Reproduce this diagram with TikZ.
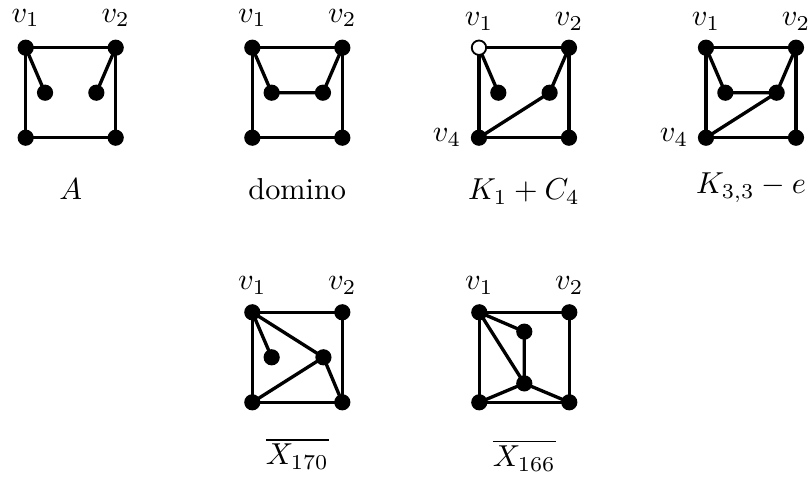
\documentclass[tikz,border=0pt]{standalone}
\usepackage{amsmath,amssymb}
\usetikzlibrary{calc}

\begin{document}
\begin{tikzpicture}[x=0.522cm,y=0.522cm,line width=1.1pt]
        \useasboundingbox (0,0) rectangle (17.978,-10.6);
        % вершини: 1 -- ліва верхня, 2 -- права верхня, 3 -- права нижня, 4 -- ліва нижня, 5, 6 -- внутрішні

        % граф A
        \begin{scope}[shift={(0.571,-1.06)}]
        \coordinate (A1) at (0,0);
        \coordinate (A2) at (2,0);
        \coordinate (A3) at (2,-2);
        \coordinate (A4) at (0,-2);
        \coordinate (A5) at (0.43,-1);
        \coordinate (A6) at (1.57,-1);
        \draw (A4) -- (A1) -- (A2) -- (A3) -- (A4);
        \draw (A1) -- (A5);
        \draw (A2) -- (A6);
        \fill (A1) circle (0.18) (A2) circle (0.18) (A3) circle (0.18)
              (A4) circle (0.18) (A5) circle (0.18) (A6) circle (0.18);
        \node[above=3pt] (lA1) at (A1) {$v_1$};
        \node[above=3pt] (lA2) at (A2) {$v_2$};
        \node[anchor=base] (nA) at (1,-3.38) {$A$};
        \end{scope}

        % доміно
        \begin{scope}[shift={(5.607,-1.06)}]
        \coordinate (D1) at (0,0);
        \coordinate (D2) at (2,0);
        \coordinate (D3) at (2,-2);
        \coordinate (D4) at (0,-2);
        \coordinate (D5) at (0.43,-1);
        \coordinate (D6) at (1.57,-1);
        \draw (D4) -- (D1) -- (D2) -- (D3) -- (D4);
        \draw (D1) -- (D5) -- (D6) -- (D2);
        \fill (D1) circle (0.18) (D2) circle (0.18) (D3) circle (0.18)
              (D4) circle (0.18) (D5) circle (0.18) (D6) circle (0.18);
        \node[above=3pt] (lD1) at (D1) {$v_1$};
        \node[above=3pt] (lD2) at (D2) {$v_2$};
        \node[anchor=base] (nD) at (1,-3.38) {domino};
        \end{scope}

        % K_1 + C_4, v_1 -- порожня вершина
        \begin{scope}[shift={(10.644,-1.06)}]
        \coordinate (K1) at (0,0);
        \coordinate (K2) at (2,0);
        \coordinate (K3) at (2,-2);
        \coordinate (K4) at (0,-2);
        \coordinate (K5) at (0.43,-1);
        \coordinate (K6) at (1.57,-1);
        \draw (K4) -- (K1) -- (K2) -- (K3) -- (K4);
        \draw (K1) -- (K5);
        \draw (K2) -- (K6) -- (K4);
        \fill (K2) circle (0.18) (K3) circle (0.18)
              (K4) circle (0.18) (K5) circle (0.18) (K6) circle (0.18);
        \filldraw[fill=white, line width=0.6pt] (K1) circle (0.16);
        \node[above=1.8pt] (lK1) at (K1) {$v_1$};
        \node[above=1.8pt] (lK2) at (K2) {$v_2$};
        \node[left=2pt] (lK4) at (K4) {$v_4$};
        \node[anchor=base] (nK) at (1,-3.38) {$K_1 + C_4$};
        \end{scope}

        % K_{3,3} - e
        \begin{scope}[shift={(15.689,-1.06)}]
        \coordinate (E1) at (0,0);
        \coordinate (E2) at (2,0);
        \coordinate (E3) at (2,-2);
        \coordinate (E4) at (0,-2);
        \coordinate (E5) at (0.43,-1);
        \coordinate (E6) at (1.57,-1);
        \draw (E4) -- (E1) -- (E2) -- (E3) -- (E4);
        \draw (E1) -- (E5) -- (E6) -- (E2);
        \draw (E6) -- (E4);
        \fill (E1) circle (0.18) (E2) circle (0.18) (E3) circle (0.18)
              (E4) circle (0.18) (E5) circle (0.18) (E6) circle (0.18);
        \node[above=1.8pt] (lE1) at (E1) {$v_1$};
        \node[above=1.8pt] (lE2) at (E2) {$v_2$};
        \node[left=2pt] (lE4) at (E4) {$v_4$};
        \node[anchor=base] (nE) at (1,-3.24) {$K_{3,3} - e$};
        \end{scope}

        % доповнення X_170
        \begin{scope}[shift={(5.607,-6.94)}]
        \coordinate (P1) at (0,0);
        \coordinate (P2) at (2,0);
        \coordinate (P3) at (2,-2);
        \coordinate (P4) at (0,-2);
        \coordinate (P5) at (0.43,-1);
        \coordinate (P6) at (1.58,-1);
        \draw (P4) -- (P1) -- (P2) -- (P3) -- (P4);
        \draw (P1) -- (P5);
        \draw (P1) -- (P6) -- (P3);
        \draw (P6) -- (P4);
        \fill (P1) circle (0.18) (P2) circle (0.18) (P3) circle (0.18)
              (P4) circle (0.18) (P5) circle (0.18) (P6) circle (0.18);
        \node[above=2pt] (lP1) at (P1) {$v_1$};
        \node[above=2pt] (lP2) at (P2) {$v_2$};
        \node[anchor=base] (nP) at (1,-3.39) {$\overline{X_{170}}$};
        \end{scope}

        % доповнення X_166
        \begin{scope}[shift={(10.651,-6.94)}]
        \coordinate (Q1) at (0,0);
        \coordinate (Q2) at (2,0);
        \coordinate (Q3) at (2,-2);
        \coordinate (Q4) at (0,-2);
        \coordinate (Q5) at (1,-0.43);
        \coordinate (Q6) at (1,-1.58);
        \draw (Q4) -- (Q1) -- (Q2) -- (Q3) -- (Q4);
        \draw (Q1) -- (Q5) -- (Q6);
        \draw (Q1) -- (Q6);
        \draw (Q4) -- (Q6) -- (Q3);
        \fill (Q1) circle (0.18) (Q2) circle (0.18) (Q3) circle (0.18)
              (Q4) circle (0.18) (Q5) circle (0.18) (Q6) circle (0.18);
        \node[above=2pt] (lQ1) at (Q1) {$v_1$};
        \node[above=2pt] (lQ2) at (Q2) {$v_2$};
        \node[anchor=base] (nQ) at (1,-3.43) {$\overline{X_{166}}$};
        \end{scope}

    \end{tikzpicture}
\end{document}
